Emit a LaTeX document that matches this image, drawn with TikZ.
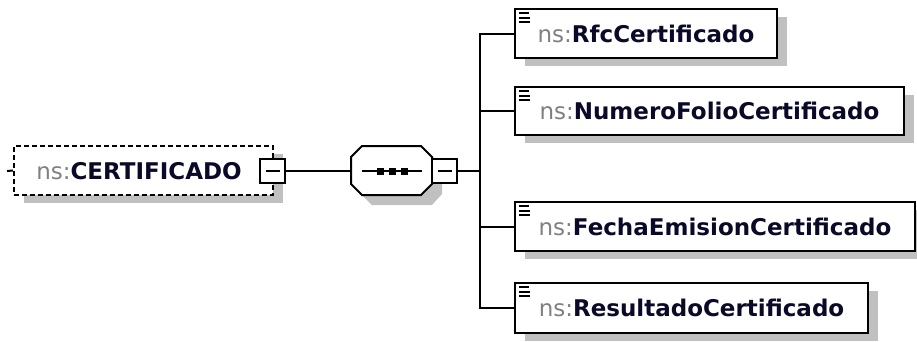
\documentclass[tikz,border=0pt]{standalone}
\usepackage{fontspec}
\setmainfont{DejaVu Sans}
\usetikzlibrary{shadows,calc}
\definecolor{nsgray}{RGB}{128,128,128}
\definecolor{namec}{RGB}{10,10,40}
\definecolor{shadowc}{RGB}{192,192,192}
\newcommand{\elname}[1]{{\textcolor{nsgray}{ns:}\textcolor{namec}{\bfseries #1}}}
\newcommand{\elicon}[1]{%
  \draw[line width=2pt] ([shift={(5,5)}]#1.north west) -- ++(10,0);
  \draw[line width=2pt] ([shift={(5,9.5)}]#1.north west) -- ++(11,0);
  \draw[line width=2pt] ([shift={(5,14)}]#1.north west) -- ++(11,0);}
\begin{document}
\begin{tikzpicture}[x=1pt,y=-1pt,
  font=\fontsize{23}{27}\selectfont,
  elem/.style={draw=black, line width=2pt, fill=white, inner sep=0pt,
    drop shadow={shadow xshift=10pt, shadow yshift=-8pt, fill=shadowc, opacity=1}},
  optelem/.style={draw=black, line width=2pt, dash pattern=on 5pt off 3pt, fill=white, inner sep=0pt,
    drop shadow={shadow xshift=10pt, shadow yshift=-8pt, fill=shadowc, opacity=1}},
  pm/.style={draw=black, line width=2pt, fill=white, inner sep=0pt, minimum width=25pt, minimum height=24pt},
  conn/.style={draw=black, line width=2pt},
  lab/.style={inner sep=0pt}]
\useasboundingbox (0,0) rectangle (917,341);

% root element
\node[optelem, minimum width=259pt, minimum height=49pt] (cert) at (143.5,170.5) {};
\node[lab] (certl) at (139,171) {\elname{CERTIFICADO}};
\coordinate (certtick) at (7,171);
\draw[conn] (certtick) -- (cert.west);
\node[pm] (certpm) at (272.5,170.5) {};
\draw[line width=2pt] ([xshift=-7pt]certpm.center) -- ([xshift=7pt]certpm.center);

% sequence compositor
\node[inner sep=0pt, minimum width=81pt, minimum height=49pt] (seq) at (391.5,170.5) {};
\fill[shadowc] (372,156) -- (432,156) -- (442,166) -- (442,194) -- (432,205) -- (372,205) -- (361,194) -- (361,166) -- cycle;
\draw[line width=2pt, fill=white] (362,146) -- (421,146) -- (432,157) -- (432,184) -- (421,195) -- (362,195) -- (351,184) -- (351,157) -- cycle;
\coordinate (sql) at (362,171);
\coordinate (sqr) at (422,171);
\draw[line width=2pt] (sql) -- (sqr);
\foreach \xx in {380,392,404} \fill (\xx-3.5,167.5) rectangle (\xx+3.5,174.5);
\node[pm] (seqpm) at (444.5,171) {};
\draw[line width=2pt] ([xshift=-7pt]seqpm.center) -- ([xshift=7pt]seqpm.center);

\draw[conn] (certpm.east) -- (seq.west);

% children
\node[elem, minimum width=262pt, minimum height=49pt] (rfc) at (646,33.5) {\elname{RfcCertificado}};
\node[elem, minimum width=389pt, minimum height=48pt] (num) at (709.5,111) {\elname{NumeroFolioCertificado}};
\node[elem, minimum width=400pt, minimum height=49pt] (fecha) at (715,226.5) {\elname{FechaEmisionCertificado}};
\node[elem, minimum width=353pt, minimum height=50pt] (res) at (691.5,308) {\elname{ResultadoCertificado}};
\elicon{rfc}
\elicon{num}
\elicon{fecha}
\elicon{res}

\coordinate (bus) at (480,171);
\draw[conn] (seqpm.east) -- (bus);
\draw[conn] (bus) |- (rfc.west);
\draw[conn] (bus) |- (num.west);
\draw[conn] (bus) |- (fecha.west);
\draw[conn] (bus) |- (res.west);
\end{tikzpicture}
\end{document}
